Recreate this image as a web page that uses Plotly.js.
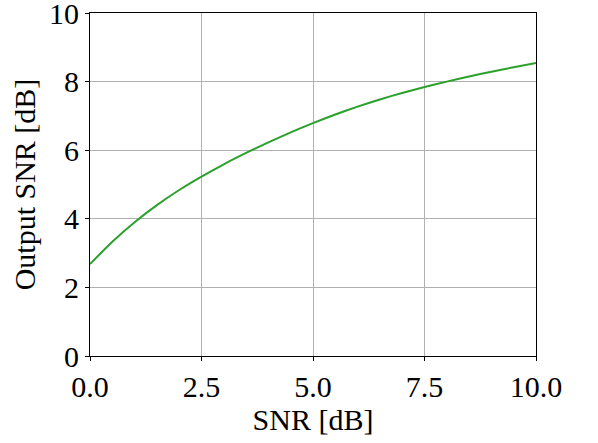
<!DOCTYPE html>
<html>
<head>
<meta charset="utf-8">
<script src="https://cdn.plot.ly/plotly-3.0.1.min.js"></script>
<style>
  html, body { margin: 0; padding: 0; background: #fff; }
  #plot { width: 598px; height: 443px; }
</style>
</head>
<body>
<div id="plot"></div>
<script>
// values
var snrIn = [0, 0.5, 1, 1.5, 2, 2.5, 3, 3.5, 4, 4.5, 5, 5.5, 6, 6.5, 7, 7.5, 8, 8.5, 9, 9.5, 10];
var snrOut = [2.68, 3.33, 3.90, 4.40, 4.84, 5.23, 5.59, 5.92, 6.23, 6.52, 6.79, 7.04, 7.27, 7.48, 7.67, 7.84, 8.00, 8.15, 8.29, 8.42, 8.54];

var trace = {
  x: snrIn,
  y: snrOut,
  type: "scatter",
  mode: "lines",
  line: {color: "#2ca02c", width: 2, shape: "spline", smoothing: 0.6},
  hoverinfo: "skip"
};

var font = {family: "Liberation Serif", size: 30, color: "#000"};

var layout = {
  width: 598,
  height: 443,
  margin: {l: 90, r: 62, t: 13, b: 87},
  paper_bgcolor: "#fff",
  plot_bgcolor: "#fff",
  showlegend: false,
  font: font,
  xaxis: {
    range: [0, 10],
    tickvals: [0, 2.5, 5, 7.5, 10],
    ticktext: ["0.0", "2.5", "5.0", "7.5", "10.0"],
    showline: true, mirror: true, linecolor: "#000", linewidth: 1,
    ticks: "outside", ticklen: 4, tickcolor: "#000",
    showgrid: true, gridcolor: "#b0b0b0", gridwidth: 1,
    zeroline: false,
    tickfont: font,
    ticklabeloverflow: "allow",
    title: {text: "SNR [dB]", font: font, standoff: 2}
  },
  yaxis: {
    range: [0, 10],
    tickvals: [0, 2, 4, 6, 8, 10],
    showline: true, mirror: true, linecolor: "#000", linewidth: 1,
    ticks: "outside", ticklen: 4, tickcolor: "#000",
    showgrid: true, gridcolor: "#b0b0b0", gridwidth: 1,
    zeroline: false,
    tickfont: font,
    ticklabeloverflow: "allow",
    title: {text: "Output SNR [dB]", font: font, standoff: 4}
  }
};

Plotly.newPlot("plot", [trace], layout, {displayModeBar: false, staticPlot: true});
</script>
</body>
</html>
